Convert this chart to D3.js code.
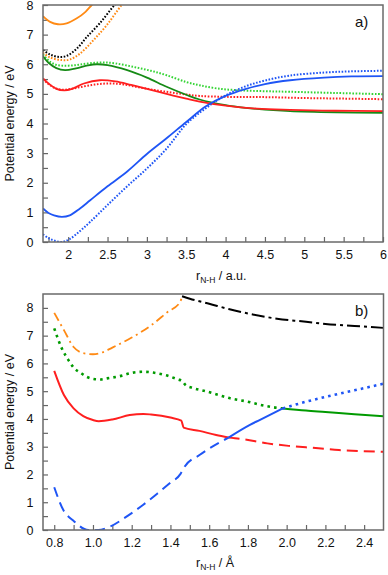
<!DOCTYPE html>
<html>
<head>
<meta charset="utf-8">
<script src="https://cdn.jsdelivr.net/npm/d3@7"></script>
<style>
  body { margin: 0; background: #fff; }
  text { font-family: "Liberation Sans", Arial, sans-serif; fill: #111; }
</style>
</head>
<body>
<svg id="chart" width="388" height="575"></svg>
<script>
// ---- panel a) : r(N-H) in a.u., energy in eV ----
const aXTicks = [2, 2.5, 3, 3.5, 4, 4.5, 5, 5.5, 6];
const aXMinor = [1.75, 2.25, 2.75, 3.25, 3.75, 4.25, 4.75, 5.25, 5.75];
const aYTicks = [0, 1, 2, 3, 4, 5, 6, 7, 8];
const aYMinor = [0.5, 1.5, 2.5, 3.5, 4.5, 5.5, 6.5, 7.5];

const aBlueSolid = [[1.68,1.13],[1.75,0.98],[1.82,0.9],[1.92,0.85],[2.02,0.9],[2.15,1.13],[2.28,1.41],[2.5,1.88],[2.75,2.38],[3.0,2.97],[3.25,3.5],[3.5,4.05],[3.75,4.58],[4.0,4.93],[4.25,5.16],[4.5,5.33],[4.82,5.46],[5.25,5.55],[5.6,5.59],[6.0,5.6]];
const aBlueDot = [[1.68,0.26],[1.75,0.13],[1.82,0.05],[1.92,0.0],[2.02,0.1],[2.15,0.37],[2.28,0.68],[2.5,1.25],[2.75,1.88],[3.0,2.48],[3.25,3.15],[3.5,3.98],[3.75,4.52],[4.0,4.95],[4.25,5.25],[4.5,5.45],[4.82,5.62],[5.25,5.72],[5.6,5.76],[6.0,5.78]];
const aRedSolid = [[1.68,5.52],[1.75,5.35],[1.85,5.17],[1.95,5.12],[2.05,5.17],[2.2,5.35],[2.4,5.46],[2.6,5.42],[2.8,5.3],[3.0,5.17],[3.25,5.0],[3.5,4.84],[3.67,4.74],[4.0,4.6],[4.4,4.5],[4.82,4.46],[5.4,4.43],[6.0,4.42]];
const aRedDot = [[1.68,5.5],[1.75,5.33],[1.85,5.18],[1.95,5.14],[2.1,5.2],[2.3,5.3],[2.5,5.35],[2.7,5.32],[2.9,5.22],[3.1,5.13],[3.3,5.05],[3.5,4.98],[3.67,4.93],[4.0,4.9],[4.5,4.89],[5.0,4.86],[5.5,4.84],[6.0,4.82]];
const aGreenSolid = [[1.68,6.27],[1.75,6.05],[1.85,5.87],[1.96,5.8],[2.1,5.86],[2.25,5.96],[2.36,6.0],[2.5,5.97],[2.75,5.8],[3.0,5.55],[3.25,5.24],[3.5,4.97],[3.67,4.81],[4.0,4.62],[4.25,4.53],[4.5,4.47],[4.82,4.42],[5.4,4.38],[6.0,4.36]];
const aGreenDot = [[1.68,6.33],[1.77,6.08],[1.85,5.98],[1.94,5.95],[2.05,5.96],[2.15,5.99],[2.3,6.04],[2.45,6.06],[2.6,6.03],[2.83,5.91],[3.05,5.78],[3.25,5.63],[3.5,5.4],[3.67,5.29],[3.9,5.18],[4.18,5.12],[4.5,5.09],[4.82,5.07],[5.4,5.03],[6.0,4.99]];
const aOrangeSolid = [[1.68,7.62],[1.77,7.43],[1.87,7.35],[1.98,7.38],[2.11,7.55],[2.22,7.77],[2.3,8.0],[2.4,8.25]];
const aBlackDot = [[1.68,6.48],[1.77,6.33],[1.87,6.25],[1.98,6.28],[2.11,6.53],[2.24,6.93],[2.4,7.38],[2.59,8.0],[2.7,8.3]];
const aOrangeDot = [[1.68,6.39],[1.77,6.23],[1.92,6.14],[2.02,6.16],[2.15,6.36],[2.32,6.81],[2.49,7.32],[2.68,8.0],[2.8,8.35]];

// ---- panel b) : r(N-H) in Angstrom ----
const bXTicks = [0.8, 1.0, 1.2, 1.4, 1.6, 1.8, 2.0, 2.2, 2.4];
const bXMinor = [0.9, 1.1, 1.3, 1.5, 1.7, 1.9, 2.1, 2.3];
const bYTicks = [0, 1, 2, 3, 4, 5, 6, 7, 8];
const bYMinor = [0.5, 1.5, 2.5, 3.5, 4.5, 5.5, 6.5, 7.5];

const bOrange = [[0.8,7.82],[0.85,7.2],[0.9,6.59],[0.95,6.37],[1.0,6.33],[1.05,6.4],[1.1,6.57],[1.2,6.93],[1.3,7.37],[1.385,7.85],[1.45,8.21],[1.46,8.42]];
const bBlack = [[1.46,8.42],[1.5,8.33],[1.6,8.15],[1.7,7.96],[1.8,7.8],[1.95,7.61],[2.1,7.5],[2.2,7.42],[2.35,7.35],[2.5,7.28]];
const bGreenDot = [[0.8,7.26],[0.84,6.53],[0.877,6.08],[0.9,5.85],[0.936,5.66],[0.97,5.51],[1.004,5.44],[1.04,5.42],[1.073,5.46],[1.138,5.54],[1.2,5.66],[1.26,5.7],[1.31,5.67],[1.378,5.57],[1.44,5.42],[1.46,5.37],[1.478,5.22],[1.513,5.12],[1.581,5.0],[1.65,4.86],[1.722,4.72],[1.794,4.63],[1.863,4.51],[1.932,4.42],[1.98,4.38]];
const bGreenSolid = [[1.98,4.38],[2.1,4.3],[2.2,4.25],[2.35,4.17],[2.5,4.1]];
const bRedSolid = [[0.8,5.73],[0.85,4.86],[0.9,4.38],[0.95,4.1],[1.0,3.96],[1.03,3.92],[1.1,3.98],[1.19,4.14],[1.26,4.18],[1.3,4.16],[1.4,4.05],[1.456,3.94],[1.468,3.69],[1.55,3.57],[1.636,3.42],[1.7,3.33]];
const bRedDash = [[1.7,3.33],[1.773,3.27],[1.9,3.12],[2.01,3.03],[2.15,2.95],[2.27,2.88],[2.4,2.84],[2.5,2.82]];
const bBlueDash = [[0.8,1.54],[0.847,0.72],[0.898,0.34],[0.976,0.0],[1.027,0.0],[1.087,0.12],[1.173,0.48],[1.258,0.9],[1.344,1.38],[1.396,1.68],[1.452,2.02],[1.473,2.28],[1.55,2.7],[1.7,3.33]];
const bBlueSolid = [[1.7,3.33],[1.808,3.78],[1.86,3.96],[1.98,4.38]];
const bBlueDot = [[1.98,4.38],[2.1,4.62],[2.24,4.86],[2.35,5.03],[2.5,5.27]];

const BLUE = '#1f55f5', RED = '#ff1f1f', GREEN = '#168a16', LGREEN = '#33d433',
      DGREEN = '#009a00', ORANGE = '#ff8a14', BLACK = '#000';

const svg = d3.select('#chart');

function drawPanel(cfg) {
    const x = d3.scaleLinear().domain(cfg.xDomain).range([cfg.left, cfg.right]);
    const y = d3.scaleLinear().domain(cfg.yDomain).range([cfg.bottom, cfg.top]);
    const g = svg.append('g');

    g.append('clipPath').attr('id', cfg.id + '-clip')
        .append('rect')
        .attr('x', cfg.left).attr('y', cfg.top)
        .attr('width', cfg.right - cfg.left).attr('height', cfg.bottom - cfg.top);

    // minor + major ticks, pointing inward
    const axes = [
        [d3.axisBottom(x).tickValues(cfg.xMinor).tickFormat(''), `translate(0,${cfg.bottom})`],
        [d3.axisBottom(x).tickValues(cfg.xTicks).tickFormat(cfg.xFmt), `translate(0,${cfg.bottom})`],
        [d3.axisLeft(y).tickValues(cfg.yMinor).tickFormat(''), `translate(${cfg.left},0)`],
        [d3.axisLeft(y).tickValues(cfg.yTicks).tickFormat(d3.format('d')), `translate(${cfg.left},0)`]
    ];
    axes.forEach(([ax, tr], i) => {
        const isY = i > 1;
        const ag = g.append('g').attr('transform', tr)
            .call(ax.tickSizeInner(isY ? -5 : -5).tickSizeOuter(0).tickPadding(isY ? 9.5 : 8));
        ag.select('.domain').remove();
        ag.selectAll('line').attr('stroke', '#666').attr('stroke-width', 1.2);
        ag.selectAll('text').attr('font-size', '12.5px').attr('fill', '#111')
            .attr('font-family', '"Liberation Sans", Arial, sans-serif');
    });

    const line = d3.line()
        .x(d => x(d[0]))
        .y(d => y(d[1]))
        .curve(cfg.curve);

    g.append('g').attr('clip-path', `url(#${cfg.id}-clip)`)
        .selectAll('path')
        .data(cfg.series)
        .join('path')
        .attr('d', d => line(d.values))
        .attr('fill', 'none')
        .attr('stroke', d => d.color)
        .attr('stroke-width', d => d.width)
        .attr('stroke-dasharray', d => d.dash || null);

    // frame
    g.append('rect')
        .attr('x', cfg.left).attr('y', cfg.top)
        .attr('width', cfg.right - cfg.left).attr('height', cfg.bottom - cfg.top)
        .attr('fill', 'none').attr('stroke', '#6a6a6a').attr('stroke-width', 1.5);

    // axis titles
    g.append('text')
        .attr('transform', `translate(13.5,${(cfg.top + cfg.bottom) / 2}) rotate(-90)`)
        .attr('text-anchor', 'middle')
        .attr('font-size', '12.5px')
        .text('Potential energy / eV');

    const xl = g.append('text')
        .attr('x', 196).attr('y', cfg.xLabelY)
        .attr('font-size', '12.5px');
    xl.append('tspan').text('r');
    xl.append('tspan').attr('font-size', '8.5px').attr('dy', 3).text('N-H');
    xl.append('tspan').attr('dy', -3).text(' / ' + cfg.unit);

    g.append('text')
        .attr('x', 355).attr('y', cfg.top + 21.5)
        .attr('font-size', '15px')
        .text(cfg.tag);
}

drawPanel({
    id: 'pa', tag: 'a)', unit: 'a.u.',
    left: 43, right: 383, top: 5, bottom: 242, xLabelY: 280,
    xDomain: [1.68, 6], yDomain: [0, 8],
    xTicks: aXTicks, xMinor: aXMinor, yTicks: aYTicks, yMinor: aYMinor,
    xFmt: d3.format(''),
    curve: d3.curveCatmullRom,
    series: [
        {values: aBlackDot, color: BLACK, width: 2, dash: '1.6,1.6'},
        {values: aOrangeDot, color: ORANGE, width: 2, dash: '1.6,1.6'},
        {values: aOrangeSolid, color: ORANGE, width: 1.8},
        {values: aGreenDot, color: LGREEN, width: 2, dash: '1.6,1.6'},
        {values: aRedDot, color: RED, width: 2, dash: '1.6,1.6'},
        {values: aBlueDot, color: BLUE, width: 2, dash: '1.6,1.6'},
        {values: aGreenSolid, color: GREEN, width: 1.8},
        {values: aRedSolid, color: RED, width: 1.8},
        {values: aBlueSolid, color: BLUE, width: 1.8}
    ]
});

drawPanel({
    id: 'pb', tag: 'b)', unit: 'Å',
    left: 43, right: 383.5, top: 294, bottom: 530, xLabelY: 567,
    xDomain: [0.742, 2.5], yDomain: [0, 8.5],
    xTicks: bXTicks, xMinor: bXMinor, yTicks: bYTicks, yMinor: bYMinor,
    xFmt: d3.format('.1f'),
    curve: d3.curveMonotoneX,
    series: [
        {values: bOrange, color: ORANGE, width: 1.8, dash: '9,4,2,4'},
        {values: bBlack, color: BLACK, width: 2, dash: '13,4,3,4'},
        {values: bGreenDot, color: DGREEN, width: 2.6, dash: '2.6,4.1'},
        {values: bGreenSolid, color: DGREEN, width: 2},
        {values: bRedSolid, color: RED, width: 2},
        {values: bRedDash, color: RED, width: 2, dash: '11,6'},
        {values: bBlueDash, color: BLUE, width: 2, dash: '10,6'},
        {values: bBlueSolid, color: BLUE, width: 2},
        {values: bBlueDot, color: BLUE, width: 2.6, dash: '2.6,4.1'}
    ]
});
</script>
</body>
</html>
